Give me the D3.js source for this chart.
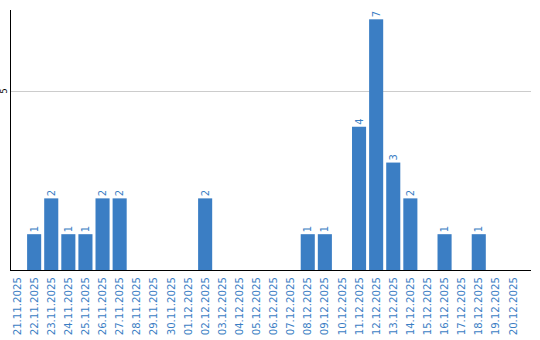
<!DOCTYPE html>
<html>
<head>
<meta charset="utf-8">
<script src="https://cdn.jsdelivr.net/npm/d3@7/dist/d3.min.js"></script>
<style>
body { margin: 0; background: #fff; }
text { font-family: "DejaVu Sans", Verdana, sans-serif; }
</style>
</head>
<body>
<svg id="chart" width="540" height="340"></svg>
<script>
var dates = ["21.11.2025", "22.11.2025", "23.11.2025", "24.11.2025", "25.11.2025",
    "26.11.2025", "27.11.2025", "28.11.2025", "29.11.2025", "30.11.2025",
    "01.12.2025", "02.12.2025", "03.12.2025", "04.12.2025", "05.12.2025",
    "06.12.2025", "07.12.2025", "08.12.2025", "09.12.2025", "10.12.2025",
    "11.12.2025", "12.12.2025", "13.12.2025", "14.12.2025", "15.12.2025",
    "16.12.2025", "17.12.2025", "18.12.2025", "19.12.2025", "20.12.2025"]
var counts = [0, 1, 2, 1, 1, 2, 2, 0, 0, 0,
    0, 2, 0, 0, 0, 0, 0, 1, 1, 0,
    4, 7, 3, 2, 0, 1, 0, 1, 0, 0]
var yTicks = [5]

var blue = "#3b7ec4"
var svg = d3.select("#chart")
var mLeft = 10, mRight = 531, mTop = 10, mBase = 270

var x = d3.scaleBand()
    .domain(dates)
    .range([mLeft, mLeft + 17 * dates.length])
    .paddingInner(3 / 17)
    .paddingOuter(0)
    .align(0)
var y = d3.scaleLinear()
    .domain([0, 7.26])
    .range([mBase, mTop])

var data = dates.map(function(d, i) { return {date: d, value: counts[i]} })
var nonzero = data.filter(function(d) { return d.value > 0 })

// grid
svg.selectAll("line.grid")
    .data(yTicks)
    .enter()
    .append("line")
    .attr("class", "grid")
    .attr("x1", mLeft + 1).attr("x2", mRight)
    .attr("y1", function(d) { return Math.round(y(d)) + 0.5 })
    .attr("y2", function(d) { return Math.round(y(d)) + 0.5 })
    .attr("stroke", "#cccccc")

// bars
svg.selectAll("rect.bar")
    .data(nonzero)
    .enter()
    .append("rect")
    .attr("class", "bar")
    .attr("x", function(d) { return x(d.date) })
    .attr("width", x.bandwidth())
    .attr("y", function(d) { return y(d.value) })
    .attr("height", function(d) { return mBase - y(d.value) })
    .attr("fill", blue)

// value labels
svg.selectAll("text.val")
    .data(nonzero)
    .enter()
    .append("text")
    .attr("class", "val")
    .attr("transform", function(d) {
        return "translate(" + (x(d.date) + x.bandwidth() / 2) + "," + (y(d.value) - 2) + ") rotate(-90)"
    })
    .attr("dy", "0.35em")
    .attr("text-anchor", "start")
    .style("font-size", "10px")
    .attr("fill", blue)
    .text(function(d) { return d.value })

// axis lines
svg.append("line")
    .attr("x1", mLeft + 0.5).attr("x2", mLeft + 0.5)
    .attr("y1", mTop).attr("y2", mBase + 1)
    .attr("stroke", "#000")
svg.append("line")
    .attr("x1", mLeft).attr("x2", mRight)
    .attr("y1", mBase + 0.5).attr("y2", mBase + 0.5)
    .attr("stroke", "#000")

// y tick labels
svg.selectAll("text.ytick")
    .data(yTicks)
    .enter()
    .append("text")
    .attr("class", "ytick")
    .attr("transform", function(d) { return "translate(4," + y(d) + ") rotate(-90)" })
    .attr("dy", "0.35em")
    .attr("text-anchor", "middle")
    .style("font-size", "8px")
    .attr("fill", "#000")
    .text(function(d) { return d })

// x labels
svg.selectAll("text.xlab")
    .data(dates)
    .enter()
    .append("text")
    .attr("class", "xlab")
    .attr("transform", function(d) {
        return "translate(" + (x(d) + x.bandwidth() / 2) + ",277) rotate(-90)"
    })
    .attr("dy", "0.35em")
    .attr("text-anchor", "end")
    .style("font-size", "10.2px")
    .attr("fill", blue)
    .text(function(d) { return d })
</script>
</body>
</html>
